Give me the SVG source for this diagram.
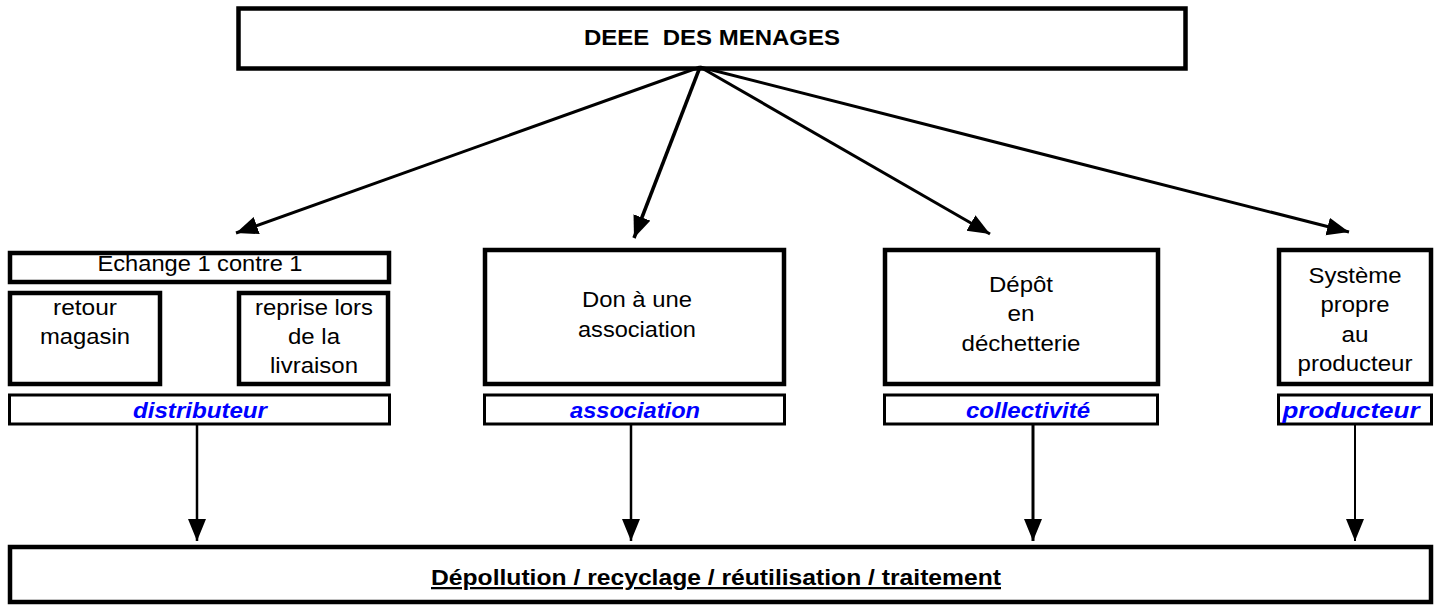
<svg xmlns="http://www.w3.org/2000/svg" width="1439" height="605" viewBox="0 0 1439 605">
<style>
.box{fill:#fff;stroke:#000;stroke-width:4.5}
.lbl{fill:#fff;stroke:#000;stroke-width:3}
.t{font-family:"Liberation Sans",Arial,sans-serif;font-size:22.5px;fill:#000;text-anchor:middle}
.b{font-weight:bold}
.bl{font-family:"Liberation Sans",Arial,sans-serif;font-size:22px;font-weight:bold;font-style:italic;fill:#0000ff;text-anchor:middle}
.c{stroke:#000;fill:none}
</style>
<defs>
<marker id="ah" markerUnits="userSpaceOnUse" markerWidth="26" markerHeight="20" refX="22" refY="9" orient="auto">
<path d="M0,0 L22,9 L0,18 Z" fill="#000"/>
</marker>
</defs>
<g id="top">
<rect class="box" x="238.5" y="8.5" width="947" height="60" stroke-width="5"/>
<text class="t b" x="712" y="45" xml:space="preserve" textLength="256" lengthAdjust="spacingAndGlyphs">DEEE  DES MENAGES</text>
</g>
<g id="echange">
<rect class="box" x="10" y="253" width="379" height="29" stroke-width="4"/>
<text class="t" x="200" y="271" textLength="205" lengthAdjust="spacingAndGlyphs">Echange 1 contre 1</text>
</g>
<g id="retour">
<rect class="box" x="10" y="293" width="150" height="91"/>
<text class="t" x="85" y="315" textLength="64" lengthAdjust="spacingAndGlyphs">retour</text>
<text class="t" x="85" y="344" textLength="90" lengthAdjust="spacingAndGlyphs">magasin</text>
</g>
<g id="reprise">
<rect class="box" x="239" y="293" width="149" height="91"/>
<text class="t" x="314" y="315" textLength="118" lengthAdjust="spacingAndGlyphs">reprise lors</text>
<text class="t" x="314" y="344" textLength="52" lengthAdjust="spacingAndGlyphs">de la</text>
<text class="t" x="314" y="373" textLength="88" lengthAdjust="spacingAndGlyphs">livraison</text>
</g>
<g id="distributeur">
<rect class="lbl" x="9.5" y="395" width="380" height="29"/>
<text class="bl" x="200" y="418" textLength="134" lengthAdjust="spacingAndGlyphs">distributeur</text>
</g>
<g id="don">
<rect class="box" x="485" y="250" width="299" height="134"/>
<text class="t" x="637" y="307" textLength="110" lengthAdjust="spacingAndGlyphs">Don à une</text>
<text class="t" x="637" y="337" textLength="118" lengthAdjust="spacingAndGlyphs">association</text>
</g>
<g id="association">
<rect class="lbl" x="484.5" y="395" width="300" height="29"/>
<text class="bl" x="635" y="418" textLength="130" lengthAdjust="spacingAndGlyphs">association</text>
</g>
<g id="depot">
<rect class="box" x="885" y="250" width="273" height="134"/>
<text class="t" x="1021" y="292" textLength="64" lengthAdjust="spacingAndGlyphs">Dépôt</text>
<text class="t" x="1021" y="321" textLength="27" lengthAdjust="spacingAndGlyphs">en</text>
<text class="t" x="1021" y="351" textLength="119" lengthAdjust="spacingAndGlyphs">déchetterie</text>
</g>
<g id="collectivite">
<rect class="lbl" x="884.5" y="395" width="273" height="29"/>
<text class="bl" x="1028" y="418" textLength="124" lengthAdjust="spacingAndGlyphs">collectivité</text>
</g>
<g id="systeme">
<rect class="box" x="1279" y="250" width="152" height="134"/>
<text class="t" x="1355" y="283" textLength="93" lengthAdjust="spacingAndGlyphs">Système</text>
<text class="t" x="1355" y="312" textLength="69" lengthAdjust="spacingAndGlyphs">propre</text>
<text class="t" x="1355" y="342" textLength="27" lengthAdjust="spacingAndGlyphs">au</text>
<text class="t" x="1355" y="371" textLength="115" lengthAdjust="spacingAndGlyphs">producteur</text>
</g>
<g id="producteur">
<rect class="lbl" x="1278.5" y="395" width="153" height="29"/>
<text class="bl" x="1351" y="418" font-size="23" textLength="137" lengthAdjust="spacingAndGlyphs">producteur</text>
</g>
<g id="bottom">
<rect class="box" x="10" y="547" width="1421" height="55"/>
<text class="t b" x="716" y="585" font-size="24" text-decoration="underline" textLength="570" lengthAdjust="spacingAndGlyphs">Dépollution / recyclage / réutilisation / traitement</text>
</g>
<g id="connectors" class="c">
<line x1="700" y1="67" x2="236" y2="233" stroke-width="3" marker-end="url(#ah)"/>
<line x1="700" y1="67" x2="634" y2="238" stroke-width="3.5" marker-end="url(#ah)"/>
<line x1="700" y1="67" x2="990" y2="234" stroke-width="3" marker-end="url(#ah)"/>
<line x1="700" y1="67" x2="1349" y2="232" stroke-width="3" marker-end="url(#ah)"/>
<line x1="197" y1="425" x2="197" y2="541" stroke-width="2.5" marker-end="url(#ah)"/>
<line x1="631" y1="425" x2="631" y2="541" stroke-width="2.5" marker-end="url(#ah)"/>
<line x1="1033" y1="425" x2="1033" y2="541" stroke-width="3" marker-end="url(#ah)"/>
<line x1="1355" y1="425" x2="1355" y2="541" stroke-width="2" marker-end="url(#ah)"/>
</g>
</svg>
